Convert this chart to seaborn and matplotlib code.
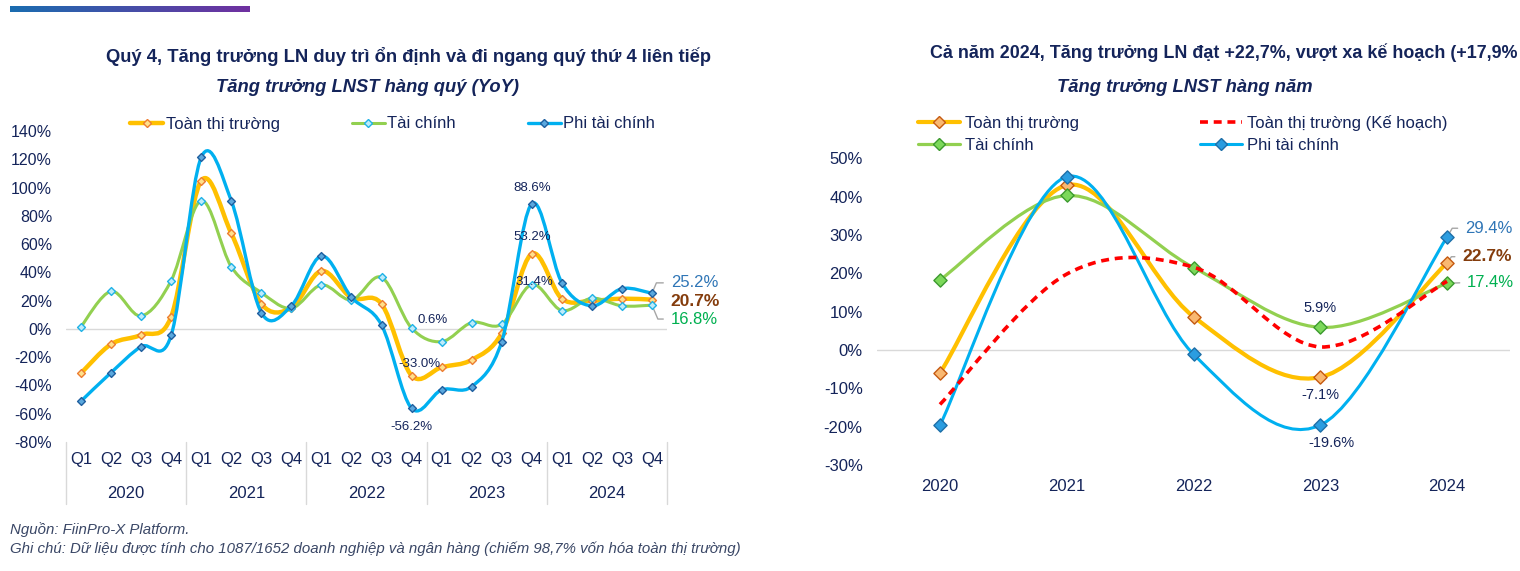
import numpy as np
import pandas as pd
import matplotlib
matplotlib.use('Agg')
import matplotlib.pyplot as plt
import seaborn as sns
from matplotlib.path import Path
from matplotlib.patches import PathPatch
from matplotlib.lines import Line2D
from matplotlib.colors import LinearSegmentedColormap

# ---------------- DỮ LIỆU ----------------
quarters = ['Q1', 'Q2', 'Q3', 'Q4'] * 5
quarter_years = ['2020', '2021', '2022', '2023', '2024']
q_toan = [-31.3, -10.8, -4.2, 8.7, 104.9, 67.7, 17.7, 15.0, 41.0, 22.0,
          17.7, -33.0, -27.1, -21.9, -3.1, 53.2, 21.4, 20.0, 21.4, 20.7]
q_taichinh = [1.6, 26.6, 9.2, 34.2, 90.7, 44.0, 25.7, 14.6, 31.1, 20.5,
              36.5, 0.6, -9.0, 4.5, 3.3, 31.4, 13.0, 21.7, 16.3, 16.8]
q_phi = [-51.1, -30.9, -12.5, -4.5, 121.4, 90.7, 11.5, 16.3, 51.6, 22.4,
         2.8, -56.2, -43.1, -40.8, -9.0, 88.6, 32.7, 16.3, 28.5, 25.2]

years = ['2020', '2021', '2022', '2023', '2024']
y_toan = [-6.0, 43.0, 8.7, -7.1, 22.7]
y_kehoach = [-14.2, 19.8, 21.6, 0.8, 17.9]
y_taichinh = [18.3, 40.3, 21.5, 5.9, 17.4]
y_phi = [-19.6, 45.2, -1.1, -19.6, 29.4]

NAVY = '#14245a'
ORANGE = '#FFC000'
GREEN = '#92D050'
BLUE = '#00B0F0'
RED = '#FF0000'

sns.set_style('white')
plt.rcParams['font.family'] = ['Liberation Sans', 'DejaVu Sans']
plt.rcParams['text.color'] = NAVY


def smooth_path(xs, ys):
    # đường cong mượt kiểu Excel (Bezier qua các điểm dữ liệu)
    pts = np.column_stack([xs, ys]).astype(float)
    verts = [pts[0]]
    codes = [Path.MOVETO]
    n = len(pts)
    for i in range(n - 1):
        p0 = pts[max(i - 1, 0)]
        p1 = pts[i]
        p2 = pts[i + 1]
        p3 = pts[min(i + 2, n - 1)]
        verts += [p1 + (p2 - p0) / 6, p2 - (p3 - p1) / 6, p2]
        codes += [Path.CURVE4] * 3
    return Path(verts, codes)


def draw_series(ax, xs, ys, color, lw, z, face=None, edge=None, ms=18, ls='-'):
    ax.add_patch(PathPatch(smooth_path(xs, ys), fill=False, edgecolor=color, lw=lw,
                           linestyle=ls, capstyle='butt', joinstyle='round', zorder=z))
    if face is not None:
        df = pd.DataFrame({'x': xs, 'v': ys})
        sns.scatterplot(data=df, x='x', y='v', marker='D', s=ms, color=face,
                        edgecolor=edge, linewidth=1.0, ax=ax, zorder=z + 0.5, legend=False)


fig = plt.figure(figsize=(15.2, 5.71), dpi=100)
W, H = 1520, 571

# thanh gradient trên cùng
bar = fig.add_axes([10 / W, 1 - 12 / H, 240 / W, 6 / H])
bar.imshow(np.linspace(0, 1, 256)[None, :], aspect='auto',
           cmap=LinearSegmentedColormap.from_list('g', ['#1a6db0', '#7030a0']))
bar.axis('off')

# ================= BIỂU ĐỒ TRÁI: HÀNG QUÝ =================
ax1 = fig.add_axes([66 / W, 1 - 442 / H, 601 / W, 311 / H])
xq = np.arange(len(quarters))
draw_series(ax1, xq, q_toan, ORANGE, 3.2, 3, '#FFE08A', '#ED7D31', 16)
draw_series(ax1, xq, q_taichinh, GREEN, 2.2, 4, '#BDEBFA', '#1FB2E6', 16)
draw_series(ax1, xq, q_phi, BLUE, 2.4, 5, '#5AA8DE', '#1F5F9F', 16)
ax1.axhline(0, color='#d9d9d9', lw=1, zorder=1)
ax1.set_xlim(-0.5, len(quarters) - 0.5)
ax1.set_ylim(-80, 140)
ax1.set_yticks(range(-80, 141, 20))
ax1.set_yticklabels([f'{v}%' for v in range(-80, 141, 20)])
ax1.set_xticks(xq)
ax1.set_xticklabels(quarters)
ax1.tick_params(axis='both', length=0, labelsize=11.5, colors=NAVY)
ax1.tick_params(axis='x', pad=7, labelsize=12)
ax1.tick_params(axis='y', pad=10)
ax1.set_xlabel('')
ax1.set_ylabel('')
sns.despine(ax=ax1, left=True, bottom=True)
for k, yr in enumerate(quarter_years):
    ax1.annotate(yr, xy=(4 * k + 1.5, 0), xycoords=('data', 'axes fraction'),
                 xytext=(0, -37), textcoords='offset points', ha='center', va='center',
                 fontsize=12, color=NAVY)
for xd in np.arange(-0.5, len(quarters), 4):
    ax1.plot([xd, xd], [0, -0.2], transform=ax1.get_xaxis_transform(),
             color='#d9d9d9', lw=1, clip_on=False)

lbl = dict(fontsize=9.5, color=NAVY, ha='center', va='center', textcoords='offset points', zorder=10)
ax1.annotate('88.6%', xy=(15, q_phi[15]), xytext=(0, 11.5), **lbl)
ax1.annotate('53.2%', xy=(15, q_toan[15]), xytext=(0, 12), **lbl)
ax1.annotate('31.4%', xy=(15, q_taichinh[15]), xytext=(2, 1.5), **lbl)
ax1.annotate('0.6%', xy=(11, q_taichinh[11]), xytext=(15, 6), **lbl)
ax1.annotate('-33.0%', xy=(11, q_toan[11]), xytext=(6, 8), **lbl)
ax1.annotate('-56.2%', xy=(11, q_phi[11]), xytext=(0, -13.5), **lbl)

lead = dict(arrowstyle='-', color='#a6a6a6', lw=1, shrinkA=3, shrinkB=2, relpos=(0, 0.5))
ax1.annotate('25.2%', xy=(19, q_phi[19]), xytext=(13.5, 7.5), textcoords='offset points',
             ha='left', va='center', fontsize=12, color='#2E75B6',
             arrowprops=dict(connectionstyle='angle,angleA=0,angleB=67,rad=0', **lead))
ax1.annotate('20.7%', xy=(19, q_toan[19]), xytext=(13.5, -1.5), textcoords='offset points',
             ha='left', va='center', fontsize=12.5, fontweight='bold', color='#843C0C')
ax1.annotate('16.8%', xy=(19, q_taichinh[19]), xytext=(13.5, -10), textcoords='offset points',
             ha='left', va='center', fontsize=12, color='#00B050',
             arrowprops=dict(connectionstyle='angle,angleA=0,angleB=-67,rad=0', **lead))

h1 = [Line2D([], [], color=ORANGE, lw=3.2, marker='D', markersize=4,
             markerfacecolor='#FFE08A', markeredgecolor='#ED7D31'),
      Line2D([], [], color=GREEN, lw=2.2, marker='D', markersize=4,
             markerfacecolor='#BDEBFA', markeredgecolor='#1FB2E6'),
      Line2D([], [], color=BLUE, lw=2.4, marker='D', markersize=4,
             markerfacecolor='#5AA8DE', markeredgecolor='#1F5F9F')]
fig.legend(h1, ['Toàn thị trường', 'Tài chính', 'Phi tài chính'], ncol=3,
           loc='center left', bbox_to_anchor=(130 / W, 1 - 124 / H), frameon=False,
           fontsize=12, handlelength=2.0, handletextpad=0.15, columnspacing=4.3,
           borderpad=0, borderaxespad=0, labelcolor=NAVY)

fig.text(408 / W, 1 - 56 / H, 'Quý 4, Tăng trưởng LN duy trì ổn định và đi ngang quý thứ 4 liên tiếp',
         ha='center', va='center', fontsize=13.2, fontweight='bold', color=NAVY)
fig.text(367 / W, 1 - 88 / H, 'Tăng trưởng LNST hàng quý (YoY)', ha='center', va='center',
         fontsize=13.2, fontweight='bold', fontstyle='italic', color=NAVY)

# ================= BIỂU ĐỒ PHẢI: HÀNG NĂM =================
ax2 = fig.add_axes([876.6 / W, 1 - 465 / H, 633.8 / W, 306.7 / H])
xy = np.arange(len(years))
draw_series(ax2, xy, y_toan, ORANGE, 3.0, 3, '#F9B871', '#C55A11', 45)
draw_series(ax2, xy, y_taichinh, GREEN, 2.3, 4, '#7CD85A', '#3C9A2E', 45)
draw_series(ax2, xy, y_phi, BLUE, 2.2, 5, '#2B9DE0', '#1E6FA8', 45)
draw_series(ax2, xy, y_kehoach, RED, 2.6, 6, ls=(0, (2.2, 1.6)))
ax2.axhline(0, color='#d9d9d9', lw=1, zorder=1)
ax2.set_xlim(-0.5, len(years) - 0.5)
ax2.set_ylim(-30, 50)
ax2.set_yticks(range(-30, 51, 10))
ax2.set_yticklabels([f'{v}%' for v in range(-30, 51, 10)])
ax2.set_xticks(xy)
ax2.set_xticklabels(years)
ax2.tick_params(axis='both', length=0, labelsize=12, colors=NAVY)
ax2.tick_params(axis='x', pad=10)
ax2.tick_params(axis='y', pad=10)
ax2.set_xlabel('')
ax2.set_ylabel('')
sns.despine(ax=ax2, left=True, bottom=True)

lbl2 = dict(fontsize=10.5, color=NAVY, ha='center', va='center', textcoords='offset points', zorder=10)
ax2.annotate('5.9%', xy=(3, y_taichinh[3]), xytext=(0, 14), **lbl2)
ax2.annotate('-7.1%', xy=(3, y_toan[3]), xytext=(0, -13), **lbl2)
ax2.annotate('-19.6%', xy=(3, y_phi[3]), xytext=(8, -13), **lbl2)

lead2 = dict(arrowstyle='-', color='#a6a6a6', lw=1, shrinkA=3, shrinkB=3, relpos=(0, 0.5))
ax2.annotate('29.4%', xy=(4, y_phi[4]), xytext=(13, 6.5), textcoords='offset points',
             ha='left', va='center', fontsize=12, color='#2E75B6',
             arrowprops=dict(connectionstyle='angle,angleA=0,angleB=60,rad=0', **lead2))
ax2.annotate('22.7%', xy=(4, y_toan[4]), xytext=(11, 4.5), textcoords='offset points',
             ha='left', va='center', fontsize=12.5, fontweight='bold', color='#843C0C',
             arrowprops=dict(connectionstyle='angle,angleA=0,angleB=55,rad=0', **lead2))
ax2.annotate('17.4%', xy=(4, y_taichinh[4]), xytext=(14.5, 0.5), textcoords='offset points',
             ha='left', va='center', fontsize=12, color='#00B050',
             arrowprops=dict(connectionstyle='arc3', **lead2))

h2 = [Line2D([], [], color=ORANGE, lw=3.0, marker='D', markersize=6,
             markerfacecolor='#F9B871', markeredgecolor='#C55A11'),
      Line2D([], [], color=GREEN, lw=2.3, marker='D', markersize=6,
             markerfacecolor='#7CD85A', markeredgecolor='#3C9A2E'),
      Line2D([], [], color=RED, lw=2.6, ls=(0, (2.2, 1.6))),
      Line2D([], [], color=BLUE, lw=2.2, marker='D', markersize=6,
             markerfacecolor='#2B9DE0', markeredgecolor='#1E6FA8')]
fig.legend(h2, ['Toàn thị trường', 'Tài chính', 'Toàn thị trường (Kế hoạch)', 'Phi tài chính'],
           ncol=2, loc='center left', bbox_to_anchor=(918 / W, 1 - 133.5 / H), frameon=False,
           fontsize=12, handlelength=2.5, handletextpad=0.3, columnspacing=7.3,
           labelspacing=0.42, borderpad=0, borderaxespad=0, labelcolor=NAVY)

# tiêu đề phải: trong ảnh gốc bị cắt ở mép phải, giữ phần nhìn thấy
fig.text(1517 / W, 1 - 53 / H, 'Cả năm 2024, Tăng trưởng LN đạt +22,7%, vượt xa kế hoạch (+17,9%',
         ha='right', va='center', fontsize=12.9, fontweight='bold', color=NAVY)
fig.text(1185 / W, 1 - 88 / H, 'Tăng trưởng LNST hàng năm', ha='center', va='center',
         fontsize=13.2, fontweight='bold', fontstyle='italic', color=NAVY)

# ghi chú
fig.text(10 / W, 1 - 530 / H, 'Nguồn: FiinPro-X Platform.', ha='left', va='center',
         fontsize=10.8, fontstyle='italic', color='#3a4766')
fig.text(10 / W, 1 - 549 / H,
         'Ghi chú: Dữ liệu được tính cho 1087/1652 doanh nghiệp và ngân hàng (chiếm 98,7% vốn hóa toàn thị trường)',
         ha='left', va='center', fontsize=10.8, fontstyle='italic', color='#3a4766')

fig.savefig('out.png', dpi=100)
